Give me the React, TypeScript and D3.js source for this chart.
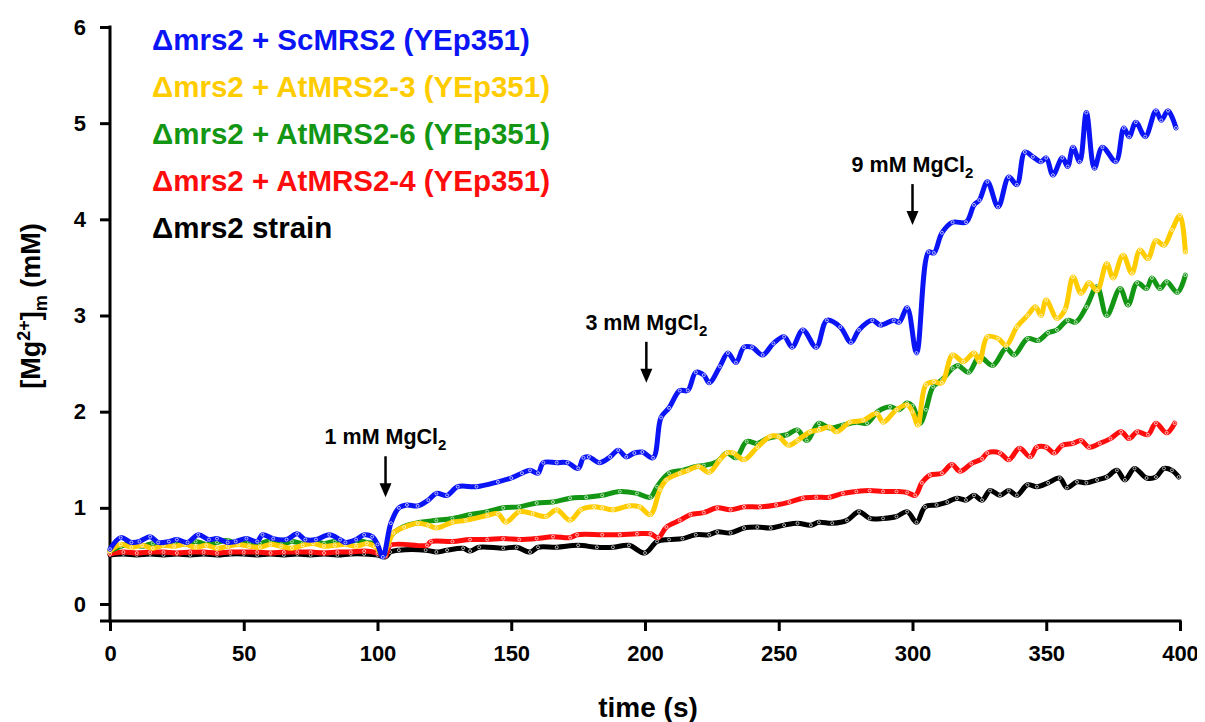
import React, { useEffect, useRef } from 'react';
import * as d3 from 'd3';

type Pt = [number, number];

// [time (s), [Mg2+]m (mM)]
const scMRS2: Pt[] = [
  [0, 0.57], [4, 0.69], [8, 0.64], [11, 0.65], [15, 0.70], [18, 0.64], [22, 0.65], [25, 0.67],
  [29, 0.64], [33, 0.72], [37, 0.67], [40, 0.68], [44, 0.64], [47, 0.65], [51, 0.68], [55, 0.65],
  [57, 0.72], [61, 0.68], [66, 0.67], [70, 0.73], [73, 0.67], [77, 0.67], [82, 0.72], [86, 0.67],
  [88, 0.64], [92, 0.67], [95, 0.72], [98, 0.70], [100, 0.62], [102, 0.49], [105, 0.84], [108, 1.0],
  [111, 1.03], [115, 1.02], [119, 1.08], [122, 1.15], [126, 1.13], [130, 1.22], [137, 1.22],
  [145, 1.27], [150, 1.31], [154, 1.36], [157, 1.39], [160, 1.36], [162, 1.47], [167, 1.47],
  [171, 1.47], [175, 1.41], [177, 1.52], [179, 1.53], [183, 1.47], [187, 1.53], [190, 1.60],
  [193, 1.53], [196, 1.57], [199, 1.58], [203, 1.52], [206, 1.94], [209, 2.04], [213, 2.22],
  [216, 2.22], [219, 2.41], [222, 2.38], [224, 2.30], [228, 2.47], [231, 2.61], [234, 2.51],
  [237, 2.67], [240, 2.67], [244, 2.59], [248, 2.71], [252, 2.78], [255, 2.67], [259, 2.85],
  [264, 2.67], [268, 2.95], [273, 2.88], [277, 2.72], [280, 2.85], [285, 2.95], [288, 2.90],
  [293, 2.95], [295, 2.93], [298, 3.08], [301.5, 2.61], [306, 3.66], [308, 3.65], [311, 3.86],
  [315, 3.97], [320, 3.97], [323, 4.15], [325, 4.20], [328, 4.39], [332, 4.13], [336, 4.44],
  [339, 4.36], [342, 4.70], [345, 4.65], [348, 4.60], [350, 4.64], [352.5, 4.46], [356, 4.64],
  [358, 4.55], [360, 4.75], [362.5, 4.60], [365, 5.11], [368, 4.53], [371, 4.75], [376, 4.60],
  [379, 4.95], [381, 4.86], [383.5, 5.01], [387, 4.86], [391, 5.13], [393, 5.03], [395.5, 5.13],
  [398.5, 4.95],
];

const atMRS2_3: Pt[] = [
  [0, 0.55], [4, 0.62], [8, 0.59], [12, 0.61], [16, 0.58], [20, 0.61], [24, 0.60], [28, 0.62],
  [32, 0.59], [36, 0.61], [40, 0.58], [44, 0.60], [48, 0.62], [52, 0.60], [56, 0.59], [60, 0.62],
  [64, 0.60], [68, 0.58], [72, 0.61], [76, 0.63], [80, 0.60], [84, 0.61], [88, 0.62], [92, 0.60],
  [96, 0.63], [99, 0.60], [102, 0.52], [106, 0.74], [110, 0.80], [115, 0.84], [119, 0.82],
  [122, 0.79], [128, 0.85], [133, 0.87], [141, 0.92], [145, 0.94], [148, 0.85], [153, 0.96],
  [158, 0.94], [163, 0.91], [167, 0.98], [172, 0.87], [176, 0.98], [181, 1.01], [184, 1.0],
  [188, 0.98], [194, 1.02], [198, 1.01], [202, 0.93], [205.6, 1.19], [208, 1.29], [213, 1.36],
  [216, 1.39], [220, 1.43], [224, 1.37], [228, 1.50], [230.6, 1.57], [233, 1.57], [237, 1.50],
  [242, 1.63], [246.7, 1.74], [250, 1.74], [253.6, 1.65], [257, 1.70], [261.7, 1.79], [265, 1.81],
  [269, 1.84], [271.6, 1.79], [276.6, 1.89], [281.6, 1.91], [286.6, 1.98], [289, 1.89], [294, 2.02],
  [298, 2.07], [300, 2.0], [302, 1.86], [305, 2.28], [308, 2.31], [311, 2.30], [315, 2.59],
  [319, 2.52], [323, 2.61], [325, 2.52], [328, 2.78], [332, 2.76], [335, 2.69], [339, 2.88],
  [343, 3.0], [346, 3.09], [348, 3.0], [350, 3.16], [354, 2.97], [357, 3.06], [360, 3.40],
  [363, 3.23], [366, 3.34], [369, 3.26], [372.6, 3.54], [375, 3.39], [378.7, 3.63], [382, 3.44],
  [385, 3.68], [388, 3.59], [391, 3.78], [394, 3.73], [397, 3.89], [400, 4.04], [402, 3.66],
];

const atMRS2_6: Pt[] = [
  [0, 0.55], [4, 0.60], [8, 0.63], [12, 0.60], [16, 0.63], [20, 0.61], [24, 0.64], [28, 0.62],
  [32, 0.65], [36, 0.62], [40, 0.64], [44, 0.66], [48, 0.62], [52, 0.64], [56, 0.63], [60, 0.66],
  [64, 0.62], [68, 0.65], [72, 0.63], [76, 0.66], [80, 0.63], [84, 0.65], [88, 0.63], [92, 0.66],
  [96, 0.64], [99, 0.62], [102, 0.50], [104.7, 0.70], [109.5, 0.80], [116, 0.85], [122, 0.87],
  [128, 0.89], [134.6, 0.93], [141, 0.96], [147, 1.0], [153, 1.01], [159.5, 1.05], [165.6, 1.06],
  [172, 1.10], [178, 1.11], [184, 1.13], [190.6, 1.17], [197, 1.15], [202, 1.11], [204.5, 1.22],
  [209, 1.36], [214, 1.39], [219, 1.43], [222, 1.44], [227, 1.48], [230.6, 1.57], [234, 1.52],
  [238, 1.69], [242, 1.67], [245.6, 1.72], [249, 1.74], [253, 1.76], [257, 1.81], [260.5, 1.70],
  [265, 1.88], [269, 1.83], [274, 1.86], [279, 1.89], [283, 1.88], [287, 2.0], [291.6, 2.05],
  [295, 2.02], [298, 2.09], [300, 2.06], [302.8, 1.88], [305, 2.02], [307.7, 2.26], [311, 2.33],
  [315, 2.45], [317, 2.48], [321, 2.41], [325, 2.57], [330, 2.48], [335, 2.66], [338, 2.59],
  [343, 2.76], [347, 2.74], [350.7, 2.82], [354, 2.85], [358, 2.95], [361, 2.93], [365, 3.09],
  [369, 3.30], [372.6, 3.0], [377.6, 3.28], [380.6, 3.11], [384, 3.34], [387.5, 3.28],
  [389.5, 3.39], [392.5, 3.28], [395, 3.35], [399, 3.24], [402, 3.42],
];

const atMRS2_4: Pt[] = [
  [0, 0.52], [5, 0.54], [10, 0.53], [15, 0.54], [20, 0.54], [25, 0.53], [30, 0.54], [35, 0.54],
  [40, 0.53], [45, 0.54], [50, 0.54], [55, 0.54], [60, 0.53], [65, 0.54], [70, 0.54], [75, 0.54],
  [80, 0.53], [85, 0.54], [90, 0.54], [95, 0.55], [100, 0.53], [103, 0.50], [104.7, 0.61],
  [118.5, 0.61], [120, 0.65], [128, 0.65], [134.6, 0.67], [141, 0.67], [147, 0.68], [153, 0.67],
  [159.5, 0.68], [165.6, 0.70], [172, 0.69], [174.6, 0.72], [184, 0.72], [190.6, 0.72],
  [197, 0.73], [202, 0.73], [205, 0.69], [208, 0.80], [213, 0.87], [217, 0.93], [222, 0.95],
  [227, 1.0], [232, 0.98], [237, 1.01], [243, 1.01], [249, 1.03], [254, 1.06], [259, 1.10],
  [264, 1.11], [269, 1.11], [274, 1.15], [279, 1.17], [284, 1.18], [289, 1.17], [294, 1.17],
  [298, 1.16], [301, 1.13], [303.5, 1.26], [306.5, 1.34], [311, 1.36], [314.7, 1.45],
  [317.8, 1.38], [322, 1.46], [326, 1.51], [328, 1.57], [332.7, 1.57], [336, 1.50], [340, 1.62],
  [344, 1.53], [346.5, 1.63], [350, 1.63], [353, 1.57], [356, 1.65], [360, 1.67], [363, 1.70],
  [366, 1.63], [370, 1.67], [374, 1.72], [378, 1.79], [381, 1.72], [384, 1.79], [388, 1.76],
  [391, 1.88], [395, 1.78], [398, 1.88],
];

const mrs2Strain: Pt[] = [
  [0, 0.51], [5, 0.52], [10, 0.51], [15, 0.52], [20, 0.51], [25, 0.52], [30, 0.51], [35, 0.52],
  [40, 0.51], [45, 0.52], [50, 0.52], [55, 0.51], [60, 0.52], [65, 0.51], [70, 0.52], [75, 0.51],
  [80, 0.52], [85, 0.51], [90, 0.52], [95, 0.52], [100, 0.51], [103, 0.49], [104.7, 0.54],
  [108, 0.56], [118, 0.56], [122, 0.54], [126, 0.56], [132, 0.58], [134.6, 0.55], [138, 0.59],
  [147, 0.58], [152, 0.59], [157, 0.54], [160, 0.59], [167, 0.59], [175, 0.61], [182, 0.59],
  [188, 0.59], [194, 0.61], [200, 0.53], [204.5, 0.65], [209, 0.67], [214, 0.68], [219, 0.72],
  [224, 0.72], [227, 0.75], [232, 0.74], [237, 0.79], [242, 0.80], [247, 0.79], [252, 0.82],
  [257, 0.84], [262, 0.82], [265, 0.85], [270, 0.84], [275.5, 0.87], [280, 0.96], [284, 0.89],
  [289, 0.89], [294, 0.91], [298, 0.96], [301.5, 0.85], [304.7, 1.01], [309, 1.03], [313, 1.06],
  [316.6, 1.10], [320, 1.08], [323, 1.13], [326, 1.08], [329, 1.18], [332.7, 1.13], [336, 1.18],
  [339, 1.13], [343, 1.24], [346.5, 1.22], [350.7, 1.26], [355, 1.31], [357.7, 1.21],
  [361.5, 1.27], [365, 1.26], [369, 1.29], [372.6, 1.32], [376.4, 1.39], [379.4, 1.29],
  [383, 1.41], [387.5, 1.31], [391, 1.32], [394, 1.41], [397, 1.39], [399.5, 1.32],
];

const legendLabels = [
  'Δmrs2 + ScMRS2 (YEp351)',
  'Δmrs2 + AtMRS2-3 (YEp351)',
  'Δmrs2 + AtMRS2-6 (YEp351)',
  'Δmrs2 + AtMRS2-4 (YEp351)',
  'Δmrs2 strain',
];
const legendColors = ['#0a14f5', '#ffcc00', '#139613', '#ff0d0d', '#000000'];
const allSeries = [scMRS2, atMRS2_3, atMRS2_6, atMRS2_4, mrs2Strain];

const xTicks = [0, 50, 100, 150, 200, 250, 300, 350, 400];
const yTicks = [0, 1, 2, 3, 4, 5, 6];

// MgCl2 additions: time, concentration, value where the arrow points
const additions = [
  { time: 103, conc: '1', tip: 1.11 },
  { time: 200.5, conc: '3', tip: 2.3 },
  { time: 300, conc: '9', tip: 3.94 },
];

const FONT = "'Liberation Sans', Arial, Helvetica, sans-serif";

export default function App() {
  const ref = useRef<SVGSVGElement>(null);

  useEffect(() => {
    const svg = d3.select(ref.current);
    svg.selectAll('*').remove();

    const W = 1205, H = 722;
    const left = 110, right = 1180, top = 27, zeroY = 604, axisY = 621;

    const x = d3.scaleLinear().domain([0, 400]).range([left, right]);
    const y = d3.scaleLinear().domain([0, 6]).range([zeroY, top]);

    svg.attr('width', W).attr('height', H).style('font-family', FONT);

    // y axis
    const ya = svg.append('g').attr('transform', `translate(${left},0)`)
      .call(d3.axisLeft(y).tickValues(yTicks).tickSize(10).tickPadding(14).tickFormat(d3.format('d')));
    ya.select('.domain').remove();
    ya.selectAll('line').attr('stroke', '#000').attr('stroke-width', 3);
    ya.selectAll('text').attr('font-size', 22).attr('font-weight', 'bold').attr('fill', '#000');

    // x axis
    const xa = svg.append('g').attr('transform', `translate(0,${axisY})`)
      .call(d3.axisBottom(x).tickValues(xTicks).tickSize(10).tickPadding(14).tickFormat(d3.format('d')));
    xa.select('.domain').remove();
    xa.selectAll('line').attr('stroke', '#000').attr('stroke-width', 3);
    xa.selectAll('text').attr('font-size', 22).attr('font-weight', 'bold').attr('fill', '#000');

    svg.append('line').attr('x1', left).attr('x2', left).attr('y1', y(6) - 1.5).attr('y2', axisY + 1.5)
      .attr('stroke', '#000').attr('stroke-width', 3);
    svg.append('line').attr('x1', left - 10).attr('x2', right + 1.5).attr('y1', axisY).attr('y2', axisY)
      .attr('stroke', '#000').attr('stroke-width', 3);

    // axis titles
    svg.append('text').attr('x', 648).attr('y', 717).attr('text-anchor', 'middle')
      .attr('font-size', 28).attr('font-weight', 'bold').text('time (s)');

    const yl = svg.append('text').attr('transform', `translate(40,${306}) rotate(-90)`)
      .attr('text-anchor', 'middle').attr('font-size', 27).attr('font-weight', 'bold');
    yl.append('tspan').text('[Mg');
    yl.append('tspan').attr('dy', -10).attr('font-size', 18).text('2+');
    yl.append('tspan').attr('dy', 10).text(']');
    yl.append('tspan').attr('dy', 7).attr('font-size', 18).text('m');
    yl.append('tspan').attr('dy', -7).text(' (mM)');

    // traces, bottom series first
    const line = d3.line<Pt>().x(d => x(d[0])).y(d => y(d[1])).curve(d3.curveCatmullRom.alpha(0.5));
    const order = [4, 3, 2, 1, 0];
    order.forEach(i => {
      const g = svg.append('g');
      g.append('path').datum(allSeries[i]).attr('d', line).attr('fill', 'none')
        .attr('stroke', legendColors[i]).attr('stroke-width', 5)
        .attr('stroke-linejoin', 'round').attr('stroke-linecap', 'round');
      g.selectAll('circle').data(allSeries[i]).enter().append('circle')
        .attr('cx', d => x(d[0])).attr('cy', d => y(d[1])).attr('r', 1.5)
        .attr('fill', 'none').attr('stroke', '#fff').attr('stroke-width', 0.8).attr('opacity', 0.85);
    });

    // legend
    legendLabels.forEach((lab, i) => {
      svg.append('text').attr('x', 152).attr('y', 50 + i * 47)
        .attr('font-size', 29.5).attr('font-weight', 'bold').attr('fill', legendColors[i]).text(lab);
    });

    // MgCl2 additions
    additions.forEach(a => {
      const ax = x(a.time), tipY = y(a.tip);
      svg.append('line').attr('x1', ax).attr('x2', ax).attr('y1', tipY - 41).attr('y2', tipY - 12)
        .attr('stroke', '#000').attr('stroke-width', 2.5);
      svg.append('path')
        .attr('d', `M${ax - 6},${tipY - 14}L${ax + 6},${tipY - 14}L${ax},${tipY}Z`).attr('fill', '#000');
      const t = svg.append('text').attr('x', ax).attr('y', tipY - 53).attr('text-anchor', 'middle')
        .attr('font-size', 21.5).attr('font-weight', 'bold');
      t.append('tspan').text(`${a.conc} mM MgCl`);
      t.append('tspan').attr('dy', 6).attr('font-size', 15).text('2');
    });
  }, []);

  return <svg ref={ref} style={{ display: 'block', margin: '-8px 0 0 -8px' }} />;
}
